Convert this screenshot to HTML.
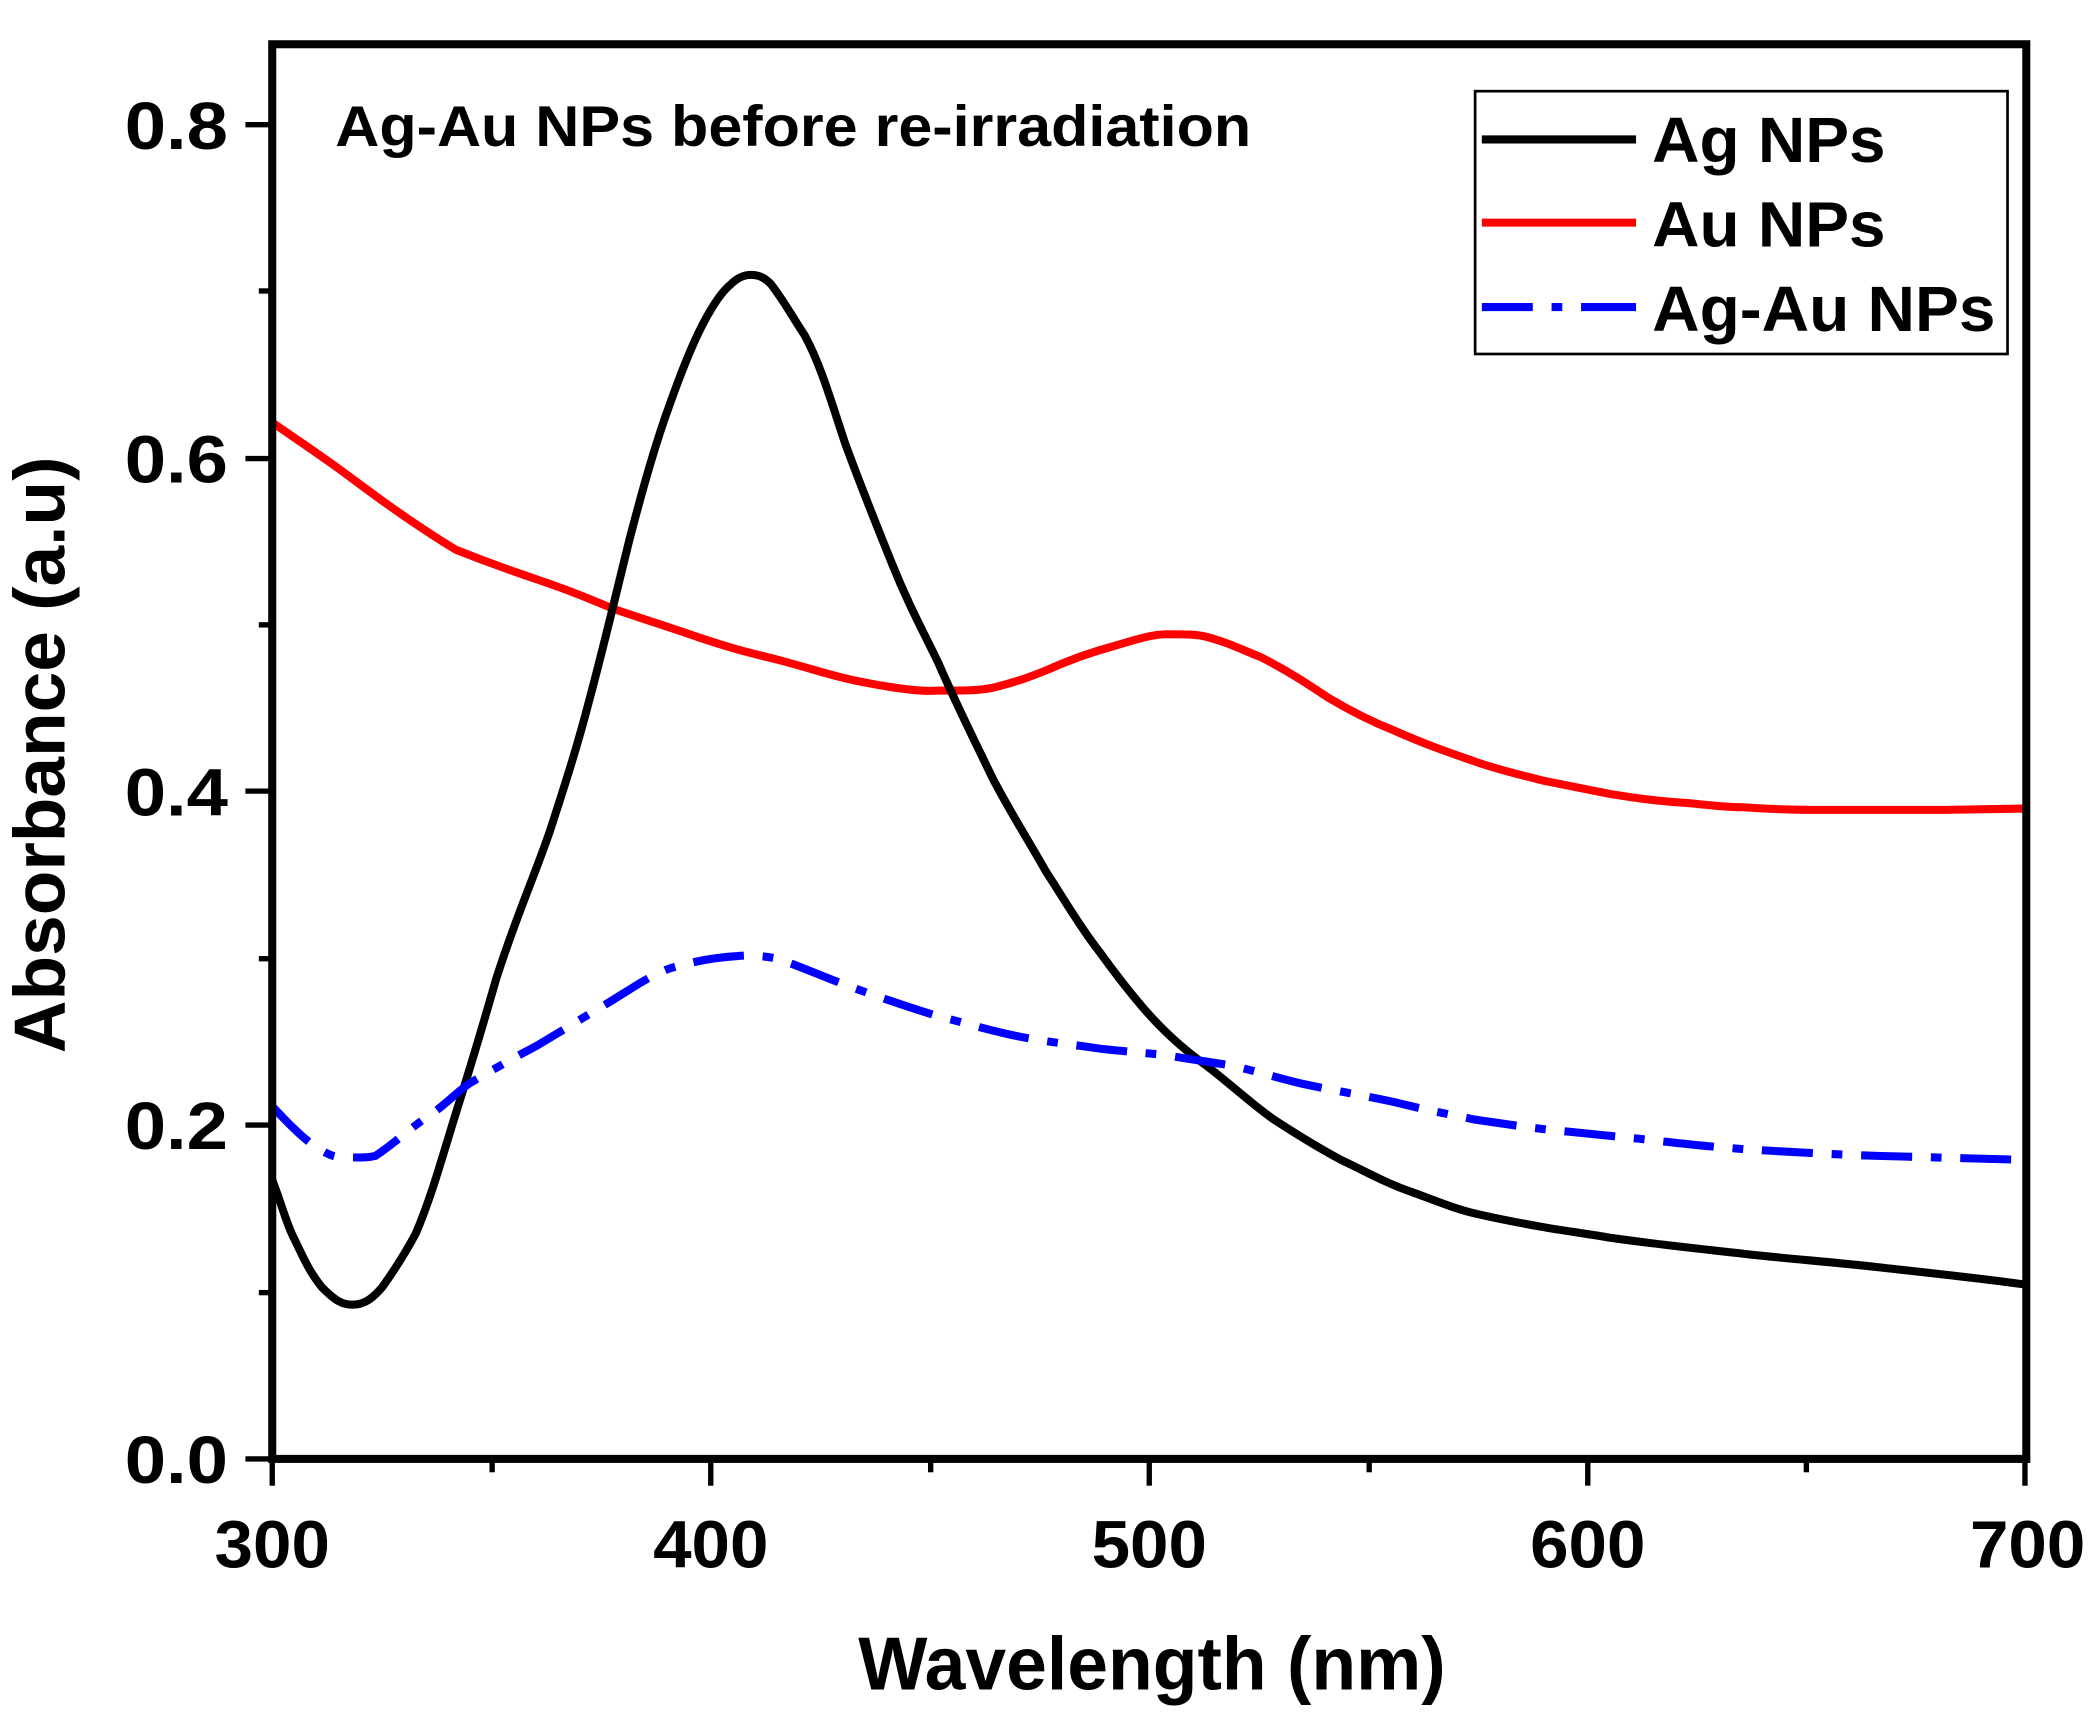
<!DOCTYPE html>
<html><head><meta charset="utf-8"><style>
html,body{margin:0;padding:0;background:#fff;}
svg{display:block;}
text{font-family:"Liberation Sans Narrow","Liberation Sans",sans-serif;font-weight:bold;fill:#000;}
</style></head><body>
<svg width="2092" height="1715" viewBox="0 0 1560 1279" preserveAspectRatio="none" xmlns="http://www.w3.org/2000/svg">
<rect width="1560" height="1279" fill="#fff"/>
<g fill="none" stroke-linejoin="round" stroke-linecap="butt">
<path stroke="#f00" stroke-width="6" d="M203,315 C220,327 240,340 260,355 C280,370 310,392 340,410 C370,422 380,425 400,432 C430,442 440,447 460,455 C490,465 500,468 520,475 C550,485 560,487 580,492 C610,500 620,504 640,508 C670,514 690,516 700,515 C720,515 730,515 740,513 C760,508 770,504 780,500 C800,491 815,486 830,482 C850,476 860,473 870,473 C885,473 892,473 900,475 C915,479 925,484 940,490 C960,500 975,510 990,520 C1010,532 1025,539 1040,545 C1065,556 1080,561 1100,568 C1120,575 1135,578 1150,582 C1170,586 1185,589 1200,592 C1230,597 1245,598 1260,599 C1280,601 1290,602 1300,602 C1330,604 1345,604 1360,604 L1450,604 L1510,603"/>
<path stroke="#000" stroke-width="6" d="M203,880 C210,898 214,914 220,925 C228,942 232,950 240,960 C250,970 255,973 263,973 C272,973 278,968 285,960 C295,946 302,935 310,920 C322,892 330,862 340,830 C352,792 360,765 370,730 C385,683 398,655 410,620 C422,583 431,555 440,520 C452,475 460,440 470,400 C480,362 489,330 500,300 C510,272 517,255 525,240 C533,225 540,216 545,212 C550,207 555,205 560,205 C566,205 570,207 575,212 C585,225 592,238 600,250 C612,272 620,300 630,330 C642,363 653,390 665,420 C677,450 688,470 700,495 C713,525 727,553 740,580 C753,605 767,627 780,650 C793,670 806,692 820,710 C833,728 846,745 860,760 C873,774 886,785 900,795 C917,808 933,823 950,835 C967,846 983,856 1000,865 C1017,873 1033,882 1050,888 C1067,894 1083,901 1100,905 C1117,909 1133,912 1150,915 C1167,918 1183,920 1200,923 C1235,928 1265,931 1300,935 C1335,939 1365,941 1400,945 C1435,949 1475,953 1510,958"/>
<path stroke="#00f" stroke-width="6" stroke-dasharray="38,14,8,14" d="M203,825 C215,838 225,848 235,855 C243,860 248,863 255,863 C265,863 272,864 280,862 C295,852 305,842 320,832 C332,824 340,815 350,808 C367,798 383,789 400,780 C417,770 433,760 450,750 C467,740 483,728 500,722 C517,717 533,714 550,713 C560,712 570,713 580,715 C600,722 620,731 640,738 C660,745 680,752 700,758 C720,763 740,769 760,773 C780,777 800,779 820,782 C837,784 853,785 870,787 C887,790 903,792 920,795 C937,799 953,804 970,808 C993,813 1017,817 1040,822 C1060,827 1080,831 1100,835 C1120,838 1140,841 1160,843 C1180,845 1200,847 1220,849 C1247,852 1273,855 1300,857 C1333,859 1367,861 1400,862 C1437,863 1473,864 1510,865"/>
</g>
<rect x="203" y="33" width="1308" height="1055" fill="none" stroke="#000" stroke-width="6"/>
<g stroke="#000" stroke-width="4">
<line x1="183" y1="1088" x2="203" y2="1088"/><line x1="183" y1="839" x2="203" y2="839"/><line x1="183" y1="590" x2="203" y2="590"/><line x1="183" y1="342" x2="203" y2="342"/><line x1="183" y1="93" x2="203" y2="93"/>
<line x1="193" y1="964" x2="203" y2="964"/><line x1="193" y1="715" x2="203" y2="715"/><line x1="193" y1="466" x2="203" y2="466"/><line x1="193" y1="217" x2="203" y2="217"/>
<line x1="203" y1="1088" x2="203" y2="1108"/><line x1="530" y1="1088" x2="530" y2="1108"/><line x1="857" y1="1088" x2="857" y2="1108"/><line x1="1184" y1="1088" x2="1184" y2="1108"/><line x1="1510" y1="1088" x2="1510" y2="1108"/>
<line x1="367" y1="1088" x2="367" y2="1098"/><line x1="694" y1="1088" x2="694" y2="1098"/><line x1="1021" y1="1088" x2="1021" y2="1098"/><line x1="1347" y1="1088" x2="1347" y2="1098"/>
</g>
<g font-size="50" text-anchor="end">
<text x="170" y="1106" textLength="77" lengthAdjust="spacingAndGlyphs">0.0</text>
<text x="170" y="857" textLength="77" lengthAdjust="spacingAndGlyphs">0.2</text>
<text x="170" y="608" textLength="77" lengthAdjust="spacingAndGlyphs">0.4</text>
<text x="170" y="360" textLength="77" lengthAdjust="spacingAndGlyphs">0.6</text>
<text x="170" y="111" textLength="77" lengthAdjust="spacingAndGlyphs">0.8</text>
</g>
<g font-size="50" text-anchor="middle">
<text x="203" y="1169" textLength="86" lengthAdjust="spacingAndGlyphs">300</text>
<text x="530" y="1169" textLength="86" lengthAdjust="spacingAndGlyphs">400</text>
<text x="857" y="1169" textLength="86" lengthAdjust="spacingAndGlyphs">500</text>
<text x="1184" y="1169" textLength="86" lengthAdjust="spacingAndGlyphs">600</text>
<text x="1512" y="1169" textLength="86" lengthAdjust="spacingAndGlyphs">700</text>
</g>
<text x="859" y="1260" font-size="56" text-anchor="middle" textLength="438" lengthAdjust="spacingAndGlyphs">Wavelength (nm)</text>
<text transform="translate(48,563) rotate(-90)" font-size="54" text-anchor="middle" textLength="445" lengthAdjust="spacingAndGlyphs">Absorbance (a.u)</text>
<text x="250" y="109" font-size="43" textLength="683" lengthAdjust="spacingAndGlyphs">Ag-Au NPs before re-irradiation</text>
<rect x="1100" y="68" width="397" height="196" fill="#fff" stroke="#000" stroke-width="2"/>
<line x1="1105" y1="104" x2="1220" y2="104" stroke="#000" stroke-width="6"/>
<line x1="1105" y1="166" x2="1220" y2="166" stroke="#f00" stroke-width="6"/>
<path d="M1105,229 L1143,229 M1157,229 L1165,229 M1179,229 L1220,229" stroke="#00f" stroke-width="6"/>
<g font-size="48">
<text x="1232" y="121" textLength="174" lengthAdjust="spacingAndGlyphs">Ag NPs</text>
<text x="1232" y="184" textLength="174" lengthAdjust="spacingAndGlyphs">Au NPs</text>
<text x="1232" y="247" textLength="256" lengthAdjust="spacingAndGlyphs">Ag-Au NPs</text>
</g>
</svg>
</body></html>
